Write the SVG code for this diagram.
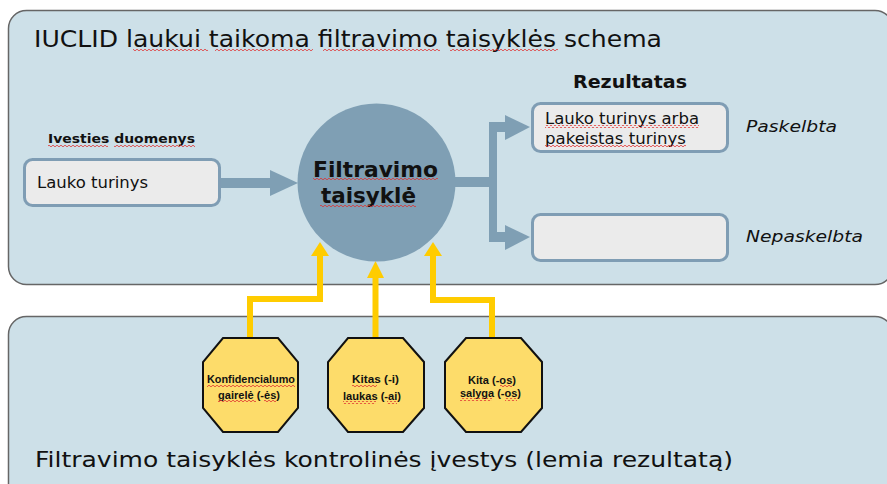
<svg xmlns="http://www.w3.org/2000/svg" width="887" height="484" viewBox="0 0 887 484">
<defs>
<pattern id="wavy" x="0" y="0" width="4" height="3" patternUnits="userSpaceOnUse">
<path d="M0 2 Q1 0.3 2 2 T4 2" fill="none" stroke="#e03030" stroke-width="0.8"/>
</pattern>
</defs>
<style>
.panel{fill:#cde0e8;stroke:#666;stroke-width:1.5}
.box{fill:#ebebeb;stroke:#7f9db4;stroke-width:3}
.gray{fill:#7f9fb4}
.yl{fill:none;stroke:#ffcc00;stroke-width:6}
.yh{fill:#ffcc00}
.oct{fill:#fddc6a;stroke:#111;stroke-width:2}
.v{font-family:"DejaVu Sans",Verdana,sans-serif;fill:#111}
.o{font-family:"Liberation Sans",Arial,sans-serif;font-weight:bold;font-size:11.5px;fill:#111;text-anchor:middle}
.sq{fill:url(#wavy)}
</style>
<rect width="887" height="484" fill="#ffffff"/>
<g id="top-panel">
<rect class="panel" x="8.5" y="10.5" width="884.5" height="274" rx="18"/>
<text class="v" x="34" y="47" font-size="23" textLength="628" lengthAdjust="spacingAndGlyphs">IUCLID laukui taikoma filtravimo taisyklės schema</text>
<rect class="sq" x="133" y="49" width="75" height="3"/>
<rect class="sq" x="215" y="49" width="98" height="3"/>
<rect class="sq" x="323" y="49" width="117" height="3"/>
<rect class="sq" x="450" y="49" width="108" height="3"/>
</g>
<g id="bottom-panel">
<rect class="panel" x="8.5" y="316.5" width="884.5" height="190" rx="18"/>
<text class="v" x="35" y="467" font-size="22" textLength="698" lengthAdjust="spacingAndGlyphs">Filtravimo taisyklės kontrolinės įvestys (lemia rezultatą)</text>
</g>
<g id="connectors">
<rect class="gray" x="219" y="178" width="53" height="10"/>
<polygon class="gray" points="270,170 298,183 270,196"/>
<rect class="gray" x="452" y="177" width="45" height="10"/>
<rect class="gray" x="489" y="122" width="8" height="120"/>
<rect class="gray" x="489" y="122" width="18" height="10"/>
<rect class="gray" x="489" y="232" width="18" height="10"/>
<polygon class="gray" points="505,115 530,127 505,140"/>
<polygon class="gray" points="505,225 530,237 505,250"/>
<polyline class="yl" points="250,339 250,299 320,299 320,254"/>
<polygon class="yh" points="311,256 320,242 329,256"/>
<line class="yl" x1="375.5" y1="339" x2="375.5" y2="276"/>
<polygon class="yh" points="367,278 375.5,261 384,278"/>
<polyline class="yl" points="492,339 492,300 433,300 433,254"/>
<polygon class="yh" points="424,256 433,242 442,256"/>
</g>
<g id="input">
<text class="v" x="48" y="143" font-size="13" font-weight="bold" textLength="147" lengthAdjust="spacingAndGlyphs">Ivesties duomenys</text>
<rect class="sq" x="48" y="145" width="60" height="3"/>
<rect class="sq" x="114" y="145" width="81" height="3"/>
<rect class="box" x="24.5" y="159.5" width="195" height="46" rx="8"/>
<text class="v" x="37" y="188" font-size="15" textLength="111" lengthAdjust="spacingAndGlyphs">Lauko turinys</text>
</g>
<g id="filter-rule">
<circle cx="376.5" cy="182.5" r="79" fill="#7f9fb4"/>
<text class="v" x="313" y="177" font-size="22" font-weight="bold" textLength="125" lengthAdjust="spacingAndGlyphs">Filtravimo</text>
<text class="v" x="321" y="203" font-size="22" font-weight="bold" textLength="95" lengthAdjust="spacingAndGlyphs">taisyklė</text>
<rect class="sq" x="313" y="178" width="125" height="3"/>
<rect class="sq" x="320" y="205" width="96" height="3"/>
</g>
<g id="result">
<text class="v" x="630" y="88" font-size="17" font-weight="bold" text-anchor="middle" textLength="114" lengthAdjust="spacingAndGlyphs">Rezultatas</text>
</g>
<g id="published">
<rect class="box" x="532.5" y="103.5" width="195" height="48" rx="8"/>
<text class="v" x="545" y="124" font-size="15" textLength="154" lengthAdjust="spacingAndGlyphs">Lauko turinys arba</text>
<text class="v" x="545" y="144" font-size="15" textLength="141" lengthAdjust="spacingAndGlyphs">pakeistas turinys</text>
<rect class="sq" x="545" y="125" width="154" height="3"/>
<rect class="sq" x="545" y="145" width="141" height="3"/>
<text class="v" x="746" y="132" font-size="16" font-style="italic" textLength="91" lengthAdjust="spacingAndGlyphs">Paskelbta</text>
</g>
<g id="not-published">
<rect class="box" x="532.5" y="214.5" width="195" height="46" rx="8"/>
<text class="v" x="746" y="242" font-size="16" font-style="italic" textLength="117" lengthAdjust="spacingAndGlyphs">Nepaskelbta</text>
</g>
<g id="confidentiality-flag">
<polygon class="oct" points="223,338 278,338 298,362 298,408 278,432 223,432 203,408 203,362"/>
<text class="o" x="251" y="383" textLength="88" lengthAdjust="spacingAndGlyphs">Konfidencialumo</text>
<text class="o" x="249" y="399" textLength="62" lengthAdjust="spacingAndGlyphs">gairelė (-ės)</text>
<rect class="sq" x="207" y="384" width="88" height="3"/>
<rect class="sq" x="218" y="400" width="38" height="3"/>
<rect class="sq" x="264" y="400" width="12" height="3"/>
</g>
<g id="other-fields">
<polygon class="oct" points="348,338 403,338 424,362 424,408 403,432 348,432 328,408 328,362"/>
<text class="o" x="375.5" y="383" textLength="47" lengthAdjust="spacingAndGlyphs">Kitas (-i)</text>
<text class="o" x="372" y="400" textLength="58" lengthAdjust="spacingAndGlyphs">laukas (-ai)</text>
<rect class="sq" x="352" y="384" width="25" height="3"/>
<rect class="sq" x="343" y="401" width="33" height="3"/>
<rect class="sq" x="387" y="401" width="10" height="3"/>
</g>
<g id="other-conditions">
<polygon class="oct" points="466,338 521,338 542,362 542,408 521,432 466,432 445,408 445,362"/>
<text class="o" x="492" y="384" textLength="48" lengthAdjust="spacingAndGlyphs">Kita (-os)</text>
<text class="o" x="490.5" y="397" textLength="61" lengthAdjust="spacingAndGlyphs">salyga (-os)</text>
<rect class="sq" x="500" y="385" width="12" height="3"/>
<rect class="sq" x="460" y="398" width="32" height="3"/>
<rect class="sq" x="505" y="398" width="12" height="3"/>
</g>
</svg>
